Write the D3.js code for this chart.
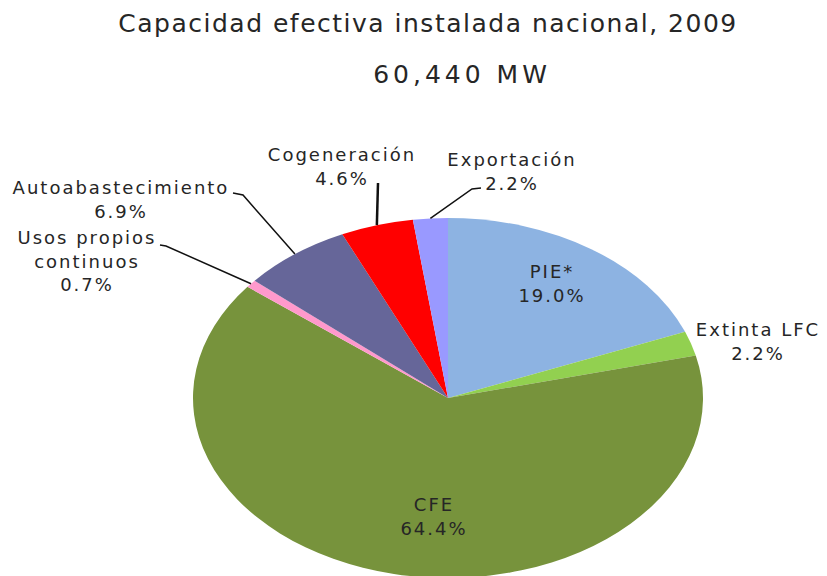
<!DOCTYPE html>
<html>
<head>
<meta charset="utf-8">
<script src="https://cdn.jsdelivr.net/npm/d3@7"></script>
<style>
  body { margin: 0; background: #fff; }
  text { font-family: "DejaVu Sans", sans-serif; fill: #262626; }
</style>
</head>
<body>
<div id="chart-area"></div>
<script>
// data
const categories = ["PIE*", "Extinta LFC", "CFE", "Usos propios continuos", "Autoabastecimiento", "Cogeneración", "Exportación"];
const values = [19.0, 2.2, 64.4, 0.7, 6.9, 4.6, 2.2];
const colors = ["#8db3e2", "#92d050", "#77933c", "#ff99cc", "#666699", "#ff0000", "#9999ff"];
const title = "Capacidad efectiva instalada nacional, 2009";
const subtitle = "60,440 MW";

const width = 827, height = 576;
const cx = 448, cy = 398, rx = 255, ry = 180;

const svg = d3.select("#chart-area").append("svg")
  .attr("width", width)
  .attr("height", height);

svg.append("text").attr("x", 428).attr("y", 32)
  .attr("text-anchor", "middle").attr("font-size", 25).attr("letter-spacing", 1.5)
  .text(title);
svg.append("text").attr("x", 462).attr("y", 83)
  .attr("text-anchor", "middle").attr("font-size", 25).attr("letter-spacing", 4)
  .text(subtitle);

const pie = d3.pie().sort(null).value(d => d)(values);
const arc = d3.arc().innerRadius(0).outerRadius(ry);

// pie drawn on a circle of radius ry, then stretched horizontally
svg.append("g")
  .attr("transform", `translate(${cx},${cy}) scale(${rx / ry},1)`)
  .selectAll("path")
  .data(pie).enter().append("path")
  .attr("d", arc)
  .attr("fill", (d, i) => colors[i]);

// point on the ellipse at a given angle and fraction of radius
function onEllipse(a, f) {
  return [cx + Math.sin(a) * rx * f, cy - Math.cos(a) * ry * f];
}
function mid(d) { return (d.startAngle + d.endAngle) / 2; }

// label layout: centre x, first baseline y, leader points going out from the pie edge
const labelLayout = [
  { lines: ["PIE*", "19.0%"], x: 552, y: 278 },
  { lines: ["Extinta LFC", "2.2%"], x: 758, y: 336 },
  { lines: ["CFE", "64.4%"], x: 434, y: 511 },
  { lines: ["Usos propios", "continuos", "0.7%"], x: 87, y: 244, leader: [[166, 246], [160, 245]] },
  { lines: ["Autoabastecimiento", "6.9%"], x: 121, y: 194, leader: [[243, 195], [233, 193]] },
  { lines: ["Cogeneración", "4.6%"], x: 342, y: 161, leader: [[378, 183]] },
  { lines: ["Exportación", "2.2%"], x: 512, y: 166, leader: [[472, 189], [481, 188]] }
];

const lineGen = d3.line();
pie.forEach((d, i) => {
  const L = labelLayout[i];
  if (L.leader) {
    const pts = [onEllipse(mid(d), 1)].concat(L.leader);
    svg.append("path")
      .attr("d", lineGen(pts))
      .attr("fill", "none")
      .attr("stroke", "#111")
      .attr("stroke-width", i === 5 ? 2.5 : 1.5);
  }
  const t = svg.append("text")
    .attr("text-anchor", "middle")
    .attr("font-size", 18)
    .attr("letter-spacing", 2);
  L.lines.forEach((s, k) => {
    t.append("tspan").attr("x", L.x).attr("y", L.y + k * 23.5).text(s);
  });
});
</script>
</body>
</html>
